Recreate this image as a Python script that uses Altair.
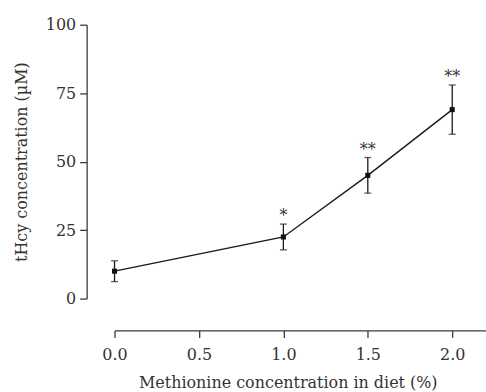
import altair as alt
import pandas as pd

dose = [0.0, 1.0, 1.5, 2.0]
mean = [10.0, 22.5, 45.0, 69.0]
err = [3.8, 4.7, 6.5, 9.0]
stars = ["", "*", "**", "**"]

df = pd.DataFrame({"dose": dose, "mean": mean, "err": err, "star": stars})
df["lo"] = df["mean"] - df["err"]
df["hi"] = df["mean"] + df["err"]

FONT = "DejaVu Serif"
AX = "#3a3a3a"

x = alt.X("dose:Q", scale=alt.Scale(domain=[0, 2.2], nice=False),
          axis=alt.Axis(title="Methionine concentration in diet (%)", values=[0, 0.5, 1.0, 1.5, 2.0],
                        format=".1f", offset=32, tickSize=7, labelPadding=9, grid=False,
                        labelFlush=False, titlePadding=12, titleX=174))
y = alt.Y("mean:Q", scale=alt.Scale(domain=[0, 100], nice=False),
          axis=alt.Axis(title="tHcy concentration (\u00b5M)", values=[0, 25, 50, 75, 100],
                        offset=28, tickSize=7, labelPadding=4, grid=False, titlePadding=16))

base = alt.Chart(df)
line = base.mark_line(color="#1a1a1a", strokeWidth=1.4).encode(x=x, y=y)
rules = base.mark_rule(color="#1a1a1a", strokeWidth=1.3).encode(x="dose:Q", y="lo:Q", y2="hi:Q")
cap_hi = base.mark_tick(color="#1a1a1a", orient="horizontal", size=7, thickness=1.3).encode(x="dose:Q", y="hi:Q")
cap_lo = base.mark_tick(color="#1a1a1a", orient="horizontal", size=7, thickness=1.3).encode(x="dose:Q", y="lo:Q")
pts = base.mark_square(color="#111111", size=26, opacity=1).encode(x="dose:Q", y="mean:Q")
txt = base.mark_text(font=FONT, fontSize=16, color="#333333", dy=-3, baseline="alphabetic").encode(
    x="dose:Q", y="hi:Q", text="star:N")

chart = alt.layer(line, rules, cap_hi, cap_lo, pts, txt).properties(
    width=373, height=275,
    autosize=alt.AutoSizeParams(type="none"),
    padding={"left": 115, "top": 24, "right": 0, "bottom": 93},
    background="white",
).configure_view(stroke=None).configure_axis(
    domainColor=AX, tickColor=AX, labelColor="#333333", titleColor="#333333",
    labelFont=FONT, titleFont=FONT, labelFontSize=16, titleFontSize=16,
    titleFontWeight="normal", domainWidth=1.3, tickWidth=1.3,
)

chart.save("out.html", embed_options={"renderer": "svg", "actions": False})
